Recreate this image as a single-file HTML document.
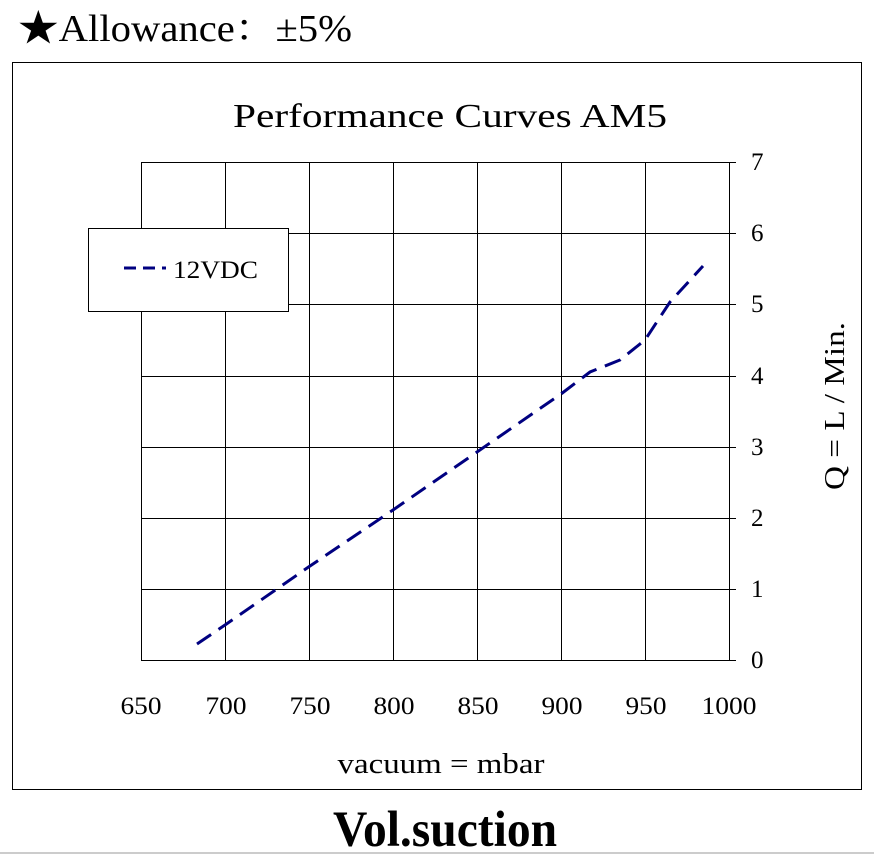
<!DOCTYPE html>
<html><head><meta charset="utf-8"><style>
html,body{margin:0;padding:0;background:#fff;}
svg{display:block;}
text{font-family:"Liberation Serif","Noto Serif CJK SC",serif;fill:#000;}
</style></head><body>
<svg width="874" height="856" viewBox="0 0 874 856">
<text x="18" y="41" font-size="38" textLength="334" lengthAdjust="spacingAndGlyphs">★Allowance：±5%</text>
<rect x="12.5" y="62.5" width="849" height="727" fill="none" stroke="#000" stroke-width="1"/>
<text x="450" y="127" font-size="34" text-anchor="middle" textLength="434" lengthAdjust="spacingAndGlyphs">Performance  Curves  AM5</text>
<g stroke="#000" stroke-width="1">
<line x1="141.5" y1="162" x2="141.5" y2="660"/>
<line x1="225.5" y1="162" x2="225.5" y2="660"/>
<line x1="309.5" y1="162" x2="309.5" y2="660"/>
<line x1="393.5" y1="162" x2="393.5" y2="660"/>
<line x1="477.5" y1="162" x2="477.5" y2="660"/>
<line x1="561.5" y1="162" x2="561.5" y2="660"/>
<line x1="645.5" y1="162" x2="645.5" y2="660"/>
<line x1="729.5" y1="162" x2="729.5" y2="660"/>
<line x1="141" y1="162.5" x2="736" y2="162.5"/>
<line x1="141" y1="233.5" x2="736" y2="233.5"/>
<line x1="141" y1="304.5" x2="736" y2="304.5"/>
<line x1="141" y1="376.5" x2="736" y2="376.5"/>
<line x1="141" y1="447.5" x2="736" y2="447.5"/>
<line x1="141" y1="518.5" x2="736" y2="518.5"/>
<line x1="141" y1="589.5" x2="736" y2="589.5"/>
<line x1="141" y1="660.5" x2="736" y2="660.5"/>
</g>
<rect x="88.5" y="228.5" width="200" height="83" fill="#fff" stroke="#000"/>
<line x1="124" y1="268" x2="166" y2="268" stroke="#000080" stroke-width="3" stroke-dasharray="12,7"/>
<text x="173" y="278" font-size="25" textLength="85" lengthAdjust="spacingAndGlyphs">12VDC</text>
<polyline points="197,644 225,625 310,566 393,510 477,452 561,394 590,372 620,360 645,340 670,302 703,266" fill="none" stroke="#000080" stroke-width="3" stroke-dasharray="17,9"/>
<g font-size="25" text-anchor="middle">
<text x="141" y="714" textLength="41" lengthAdjust="spacingAndGlyphs">650</text><text x="226" y="714" textLength="41" lengthAdjust="spacingAndGlyphs">700</text><text x="310" y="714" textLength="41" lengthAdjust="spacingAndGlyphs">750</text>
<text x="394" y="714" textLength="41" lengthAdjust="spacingAndGlyphs">800</text><text x="478" y="714" textLength="41" lengthAdjust="spacingAndGlyphs">850</text><text x="562" y="714" textLength="41" lengthAdjust="spacingAndGlyphs">900</text>
<text x="646" y="714" textLength="41" lengthAdjust="spacingAndGlyphs">950</text><text x="729" y="714" textLength="55" lengthAdjust="spacingAndGlyphs">1000</text>
</g>
<g font-size="25">
<text x="751" y="170">7</text><text x="751" y="241">6</text><text x="751" y="312">5</text>
<text x="751" y="384">4</text><text x="751" y="455">3</text><text x="751" y="526">2</text>
<text x="751" y="597">1</text><text x="751" y="668">0</text>
</g>
<text x="441" y="773" font-size="29" text-anchor="middle" textLength="207" lengthAdjust="spacingAndGlyphs">vacuum = mbar</text>
<text transform="translate(844,406) rotate(-90)" font-size="29" text-anchor="middle" textLength="168" lengthAdjust="spacingAndGlyphs">Q = L / Min.</text>
<text transform="translate(445,846) scale(1,1.15)" x="0" y="0" font-size="44" font-weight="bold" text-anchor="middle" textLength="224" lengthAdjust="spacingAndGlyphs">Vol.suction</text>
<line x1="0" y1="853" x2="874" y2="853" stroke="#ccc" stroke-width="2"/>
</svg>
</body></html>
